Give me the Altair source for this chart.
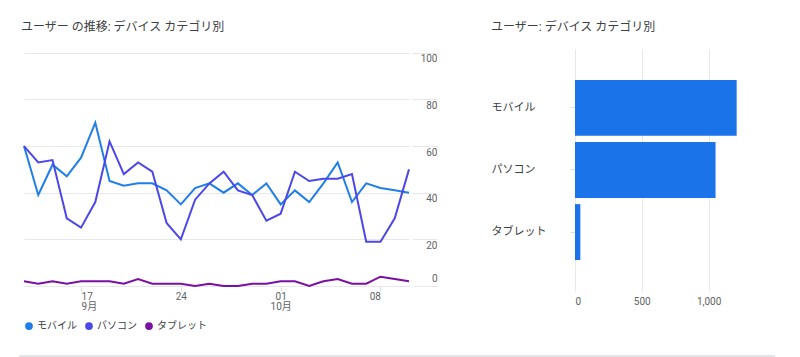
import altair as alt
import pandas as pd

# ---- data ----
dates = pd.date_range("2023-09-13", "2023-10-10", freq="D").strftime("%Y-%m-%dT00:00:00").tolist()
series_names = ["モバイル", "パソコン", "タブレット"]
series_colors = ["#1f7ee8", "#4b47ea", "#7a0fa3"]
mobile = [60, 39, 52, 47, 55, 70, 45, 43, 44, 44, 41, 35, 42, 44, 40, 44, 39, 44, 35, 41, 36, 44, 53, 36, 44, 42, 41, 40]
pc = [60, 53, 54, 29, 25, 36, 62, 48, 53, 49, 27, 20, 37, 44, 49, 41, 39, 28, 31, 49, 45, 46, 46, 48, 19, 19, 29, 50]
tablet = [2, 1, 2, 1, 2, 2, 2, 1, 3, 1, 1, 1, 0, 1, 0, 0, 1, 1, 2, 2, 0, 2, 3, 1, 1, 4, 3, 2]
bar_values = [1210, 1052, 40]
y_ticks = [0, 20, 40, 60, 80, 100]
x_ticks = [(9, 17), (9, 24), (10, 1), (10, 8)]
bar_ticks = [0, 500, 1000]

title_left = "ユーザー の推移: デバイス カテゴリ別"
title_right = "ユーザー: デバイス カテゴリ別"

rows = []
for name, vals in zip(series_names, [mobile, pc, tablet]):
    for d, v in zip(dates, vals):
        rows.append({"date": d, "device": name, "users": v})
df_line = pd.DataFrame(rows)
df_bar = pd.DataFrame({"device": series_names, "users": bar_values})

FONT = "Roboto, 'Noto Sans CJK JP', sans-serif"
GRID = "#e6e8eb"
LABEL = "#5f6368"
TITLE = "#3c4043"

x_label_expr = (
    "date(datum.value) == 17 ? ['17', '9月'] : "
    "date(datum.value) == 1 ? ['01', '10月'] : timeFormat(datum.value, '%d')"
)

line = alt.Chart(df_line).mark_line(strokeWidth=2).encode(
    x=alt.X(
        "date:T",
        scale=alt.Scale(
            domain=[alt.DateTime(year=2023, month=9, date=13), alt.DateTime(year=2023, month=10, date=10)],
            nice=False,
        ),
        axis=alt.Axis(
            values=[alt.DateTime(year=2023, month=m, date=d) for m, d in x_ticks],
            labelExpr=x_label_expr,
            title=None,
            grid=False,
            domain=False,
            ticks=True,
            tickSize=5,
            tickColor="#dadce0",
            labelPadding=0,
            labelFontSize=10,
            labelColor=LABEL,
            labelLineHeight=10,
            labelAlign={
                "condition": [
                    {"test": "date(datum.value) == 17", "value": "left"},
                    {"test": "date(datum.value) == 8", "value": "right"},
                ],
                "value": "center",
            },
        ),
    ),
    y=alt.Y(
        "users:Q",
        scale=alt.Scale(domain=[0, 101.6], nice=False),
        axis=alt.Axis(
            orient="right",
            values=y_ticks,
            title=None,
            grid=True,
            gridColor=GRID,
            domain=False,
            ticks=True,
            tickSize=25,
            tickColor=GRID,
            offset=3,
            labelAlign="right",
            labelPadding=0,
            labelOffset={"condition": {"test": "datum.value == 0", "value": -3}, "value": 1},
            labelFontSize=10,
            labelColor=LABEL,
            labelBaseline={"condition": {"test": "datum.value == 0", "value": "bottom"}, "value": "top"},
        ),
    ),
    color=alt.Color(
        "device:N",
        scale=alt.Scale(domain=series_names, range=series_colors),
        legend=alt.Legend(
            orient="none",
            legendX=0,
            legendY=272,
            direction="horizontal",
            title=None,
            symbolType="circle",
            symbolSize=14,
            symbolStrokeWidth=4,
            symbolOpacity=1,
            labelFontSize=10,
            labelColor=TITLE,
            labelOffset=3,
            columnPadding=2,
        ),
    ),
)

separator = alt.Chart(df_bar).mark_rule(color="#dfe1e5", strokeWidth=1).encode(
    x=alt.value(-5), x2=alt.value(751), y=alt.value(307)
)

left = alt.layer(line, separator).properties(
    width=385,
    height=237,
    title=alt.TitleParams(
        title_left, anchor="start", frame="group", dx=-3, offset=15,
        fontSize=12, fontWeight="normal", color=TITLE,
    ),
)

bars = alt.Chart(df_bar).mark_bar(color="#1a73e8").encode(
    x=alt.X(
        "users:Q",
        scale=alt.Scale(domain=[0, 1250], nice=False),
        axis=alt.Axis(
            values=bar_ticks, format=",.0f", title=None, grid=True, gridColor=GRID,
            ticks=False, domain=False, labelPadding=5, labelFontSize=10, labelColor=LABEL,
        ),
    ),
    y=alt.Y(
        "device:N",
        sort=series_names,
        scale=alt.Scale(paddingInner=0.1, paddingOuter=0.5),
        axis=alt.Axis(
            title=None, domain=False, ticks=True, tickSize=5, tickColor="#dadce0",
            labelAlign="left", labelPadding=79, labelFontSize=11, labelColor=TITLE, labelLimit=200,
        ),
    ),
).properties(
    width=167,
    height=242,
    title=alt.TitleParams(
        title_right, anchor="start", frame="group", dx=-84, offset=15,
        fontSize=12, fontWeight="normal", color=TITLE,
    ),
)

chart = alt.hconcat(left, bars, spacing=166, bounds="flush").properties(
    padding={"left": 18, "top": 21, "right": 10, "bottom": 4}
).configure(font=FONT).configure_view(stroke=None)

chart.save("out.html", embed_options={"renderer": "svg", "actions": False})
